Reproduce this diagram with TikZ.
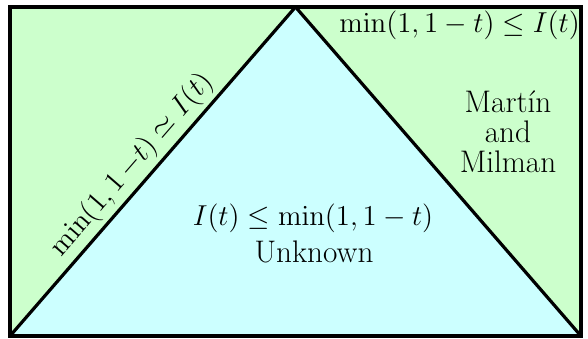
\documentclass[tikz,border=0pt]{standalone}
\usepackage{amsmath,amssymb}
\definecolor{lgreen}{HTML}{CCFFCC}
\definecolor{lcyan}{HTML}{CCFFFF}
\begin{document}
\begin{tikzpicture}[x=0.5pt,y=0.5pt,
  lbl/.style={font=\fontsize{15.6}{18}\selectfont, inner sep=0pt},
  edge/.style={line width=1.6pt, line join=miter}]
\useasboundingbox (0,0) rectangle (588,338);
\coordinate (bl) at (10,2);
\coordinate (br) at (581,2);
\coordinate (tr) at (581,331);
\coordinate (tl) at (10,331);
\coordinate (apex) at (295.5,331);
\fill[lgreen] (bl) rectangle (tr);
\fill[lcyan] (bl) -- (apex) -- (br) -- cycle;
\node[lbl, anchor=base west] (top) at (339,305) {$\min(1,1-t) \le I(t)$};
\node[lbl, anchor=base] (m1) at (508,226) {Mart\'{\i}n};
\node[lbl, anchor=base] (m2) at (508,196) {and};
\node[lbl, anchor=base] (m3) at (508,166) {Milman};
\node[lbl, anchor=base] (c1) at (313,113) {$I(t) \le \min(1,1-t)$};
\node[lbl, anchor=base] (c2) at (314,76) {Unknown};
\draw[edge] (bl) -- (apex) node[lbl, pos=0.48, sloped, anchor=south, inner sep=2pt] (rot) {$\min(1,1\,{-}t) \simeq I(t)$};
\draw[edge] (apex) -- (br);
\draw[edge] (bl) rectangle (tr);
\end{tikzpicture}
\end{document}
